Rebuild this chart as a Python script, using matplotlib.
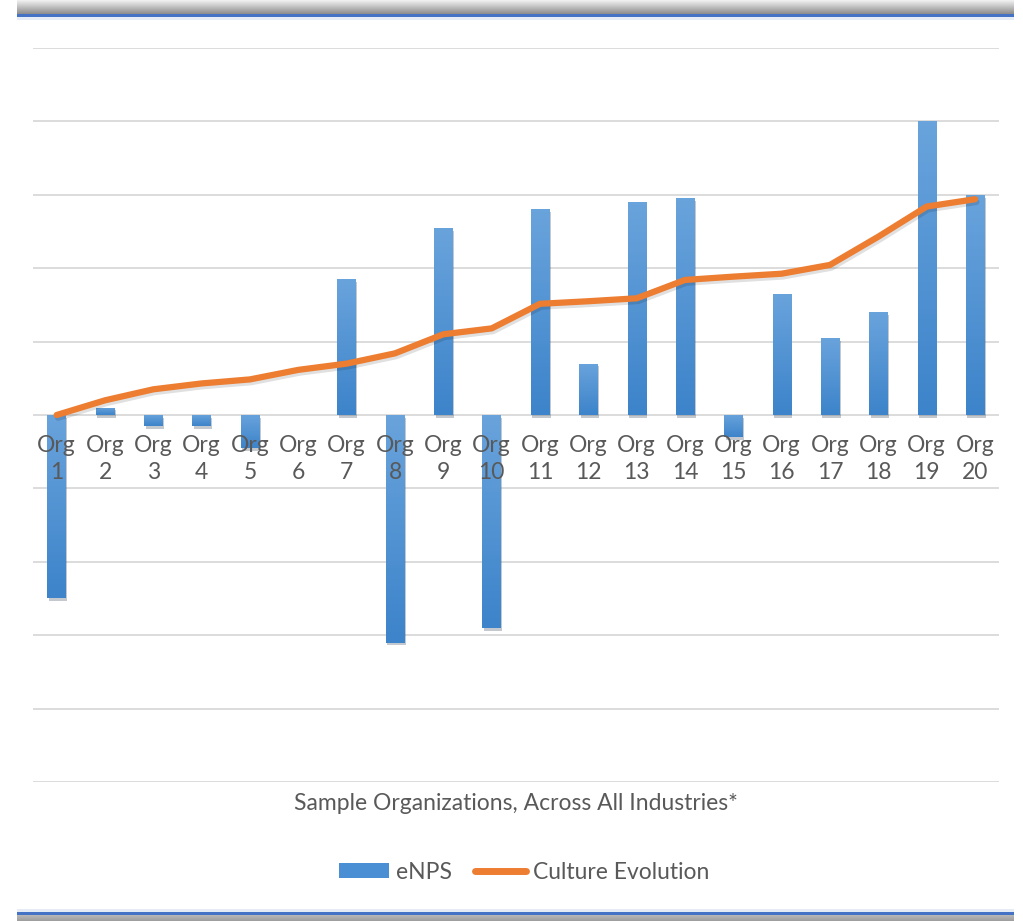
import numpy as np
import matplotlib
matplotlib.use("Agg")
import matplotlib.pyplot as plt
import matplotlib.patheffects as pe
from matplotlib.patches import Rectangle, Patch
from matplotlib.lines import Line2D
from matplotlib.colors import LinearSegmentedColormap

plt.rcParams['font.family'] = ['Lato', 'DejaVu Sans']

orgs = [f"Org\n{i}" for i in range(1, 21)]
enps = [-50, 2, -3, -3, -9, 0, 37, -62, 51, -58, 56, 14, 58, 59, -6, 33, 21, 28, 80, 60]
culture = [0, 4, 7, 8.6, 9.7, 12.3, 14, 16.8, 22, 23.6,
           30.3, 31, 31.8, 36.8, 37.7, 38.5, 40.9, 48.6, 56.8, 58.8]
y_ticks = [-100, -80, -60, -40, -20, 0, 20, 40, 60, 80, 100]

W, H = 1023, 921
grey = '#595959'
blue = '#4A8FD4'
orange = '#ED7D31'
fs = 16.5

fig = plt.figure(figsize=(W / 100, H / 100), dpi=100)

# page frame: grey/blue strips top and bottom
bg = fig.add_axes([0, 0, 1, 1], zorder=-5)
bg.set_xlim(0, W)
bg.set_ylim(H, 0)
bg.axis('off')
top_grad = np.linspace(0.95, 0.55, 64).reshape(-1, 1)
bg.imshow(top_grad, cmap='gray', vmin=0, vmax=1, extent=[17, 1014, 14, 0], aspect='auto')
bg.add_patch(Rectangle((17, 14), 997, 3.5, color='#4472C4', lw=0))
bg.add_patch(Rectangle((17, 17.5), 997, 3, color='#e6ecf5', lw=0))
bg.add_patch(Rectangle((17, 909), 997, 3, color='#e6ecf5', lw=0))
bg.add_patch(Rectangle((17, 911.5), 997, 3.5, color='#4472C4', lw=0))
bot_grad = np.linspace(0.72, 0.62, 16).reshape(-1, 1)
bg.imshow(bot_grad, cmap='gray', vmin=0, vmax=1, extent=[17, 1014, 921, 915], aspect='auto')

ax = fig.add_axes([32.5 / W, (H - 782) / H, (999.2 - 32.5) / W, (782 - 48) / H])
x = np.arange(len(orgs))

bars = ax.bar(x, enps, width=0.38, color=blue, zorder=2,
              path_effects=[pe.SimplePatchShadow(offset=(1, -2), alpha=0.25), pe.Normal()])

# vertical shading on each bar
shade = np.linspace(0, 1, 64).reshape(-1, 1)
bar_cmap = LinearSegmentedColormap.from_list('barfill', ['#69A3DC', '#3D84CA'])
for b in bars:
    x0, w = b.get_x(), b.get_width()
    y0, h = b.get_y(), b.get_height()
    if h == 0:
        continue
    top, bottom = max(y0, y0 + h), min(y0, y0 + h)
    im = ax.imshow(shade, cmap=bar_cmap, extent=[x0, x0 + w, bottom, top],
                   aspect='auto', origin='upper', zorder=2.5)
    im.set_clip_path(b)

ax.plot(x, culture, color=orange, lw=4.5, zorder=4, solid_joinstyle='round',
        solid_capstyle='round',
        path_effects=[pe.SimpleLineShadow(offset=(1, -2), alpha=0.12), pe.Normal()])

ax.set_xlim(-0.5, len(orgs) - 0.5)
ax.set_ylim(-100, 100)
ax.set_yticks(y_ticks)
ax.yaxis.grid(True, color='#D9D9D9', lw=1.3, zorder=0)
ax.set_axisbelow(True)
ax.tick_params(left=False, bottom=False, labelleft=False, labelbottom=False)
for s in ax.spines.values():
    s.set_visible(False)

# category labels sit just under the zero line
for i, lab in enumerate(orgs):
    ax.annotate(lab, (i, 0), xytext=(0, -20), textcoords='offset pixels',
                ha='center', va='top', fontsize=fs, color=grey,
                linespacing=1.36, zorder=6)

fig.text(516 / W, 1 - 803 / H, 'Sample Organizations, Across All Industries*',
         ha='center', va='center', fontsize=fs, color=grey)

handles = [Patch(facecolor=blue, edgecolor='none'),
           Line2D([], [], color=orange, lw=5, solid_capstyle='round')]
fig.legend(handles, ['eNPS', 'Culture Evolution'], loc='center',
           bbox_to_anchor=(524 / W, 1 - 872 / H), ncol=2, frameon=False,
           fontsize=fs, labelcolor=grey, handlelength=2.2, handletextpad=0.3,
           columnspacing=1.0, handleheight=0.65)

fig.savefig('out.png', dpi=100, facecolor='white')
